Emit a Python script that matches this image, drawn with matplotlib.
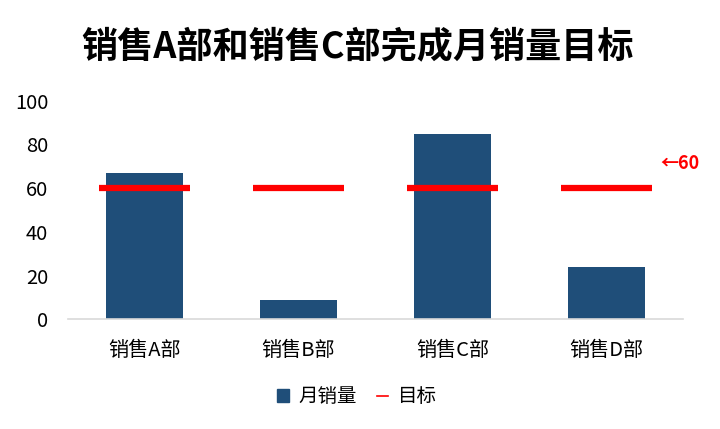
import matplotlib
matplotlib.use("Agg")
import matplotlib.pyplot as plt
from matplotlib.patches import Patch
from matplotlib.lines import Line2D
import numpy as np

plt.rcParams['font.family'] = ['Noto Sans CJK SC', 'DejaVu Sans']

categories = ['销售A部', '销售B部', '销售C部', '销售D部']
sales = [67, 9, 85, 24]
target = [60, 60, 60, 60]
yticks = [0, 20, 40, 60, 80, 100]
title = '销售A部和销售C部完成月销量目标'
target_label = '←60'

fig = plt.figure(figsize=(7.2, 4.29), dpi=100)
ax = fig.add_axes([0.094, 0.256, 0.855, 0.509])

x = np.arange(len(categories))
bar_color = '#1F4E79'
ax.bar(x, sales, width=0.5, color=bar_color, zorder=2)
tw = 0.59
for xi, t in zip(x, target):
    ax.plot([xi - tw / 2, xi + tw / 2], [t, t], color='#FF0000', lw=4.5,
            solid_capstyle='butt', zorder=3)

ax.text(x[-1] + 0.35, 71.5, target_label, color='#FF0000', fontsize=13,
        fontweight='bold', ha='left', va='center', clip_on=False)

ax.set_xlim(-0.5, len(categories) - 0.5)
ax.set_ylim(0, 100)
ax.set_yticks(yticks)
ax.set_yticklabels([str(v) for v in yticks], fontsize=14.5)
ax.set_xticks(x)
ax.set_xticklabels(categories, fontsize=14.5)
ax.tick_params(axis='x', length=0, pad=15)
ax.tick_params(axis='y', length=0, pad=14)
for s in ['top', 'right', 'left']:
    ax.spines[s].set_visible(False)
ax.spines['bottom'].set_color('#D9D9D9')
ax.spines['bottom'].set_linewidth(1.2)

fig.text(0.496, 0.89, title, fontsize=26, fontweight='heavy', ha='center',
         va='center', color='black')

handles = [Patch(facecolor=bar_color, edgecolor=bar_color),
           Line2D([0], [0], color='#FF0000', lw=1.2)]
fig.legend(handles, ['月销量', '目标'], loc='center', bbox_to_anchor=(0.496, 0.075),
           ncol=2, frameon=False, fontsize=14, handlelength=0.6, handleheight=0.6,
           columnspacing=1.0, handletextpad=0.5)

fig.savefig('out.png', dpi=100)
